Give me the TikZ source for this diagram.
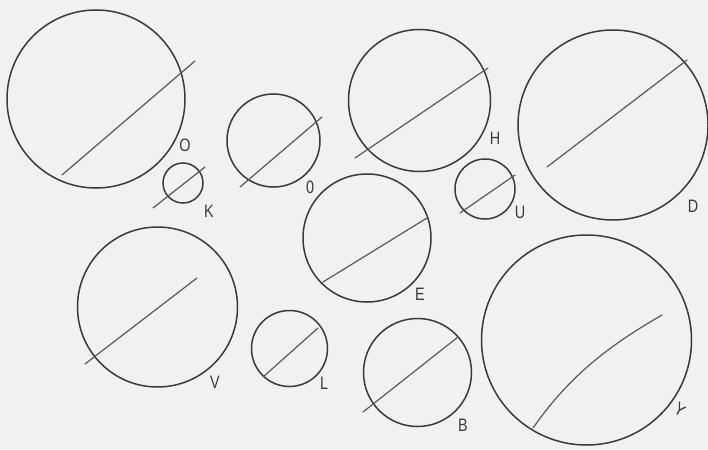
\documentclass[tikz,border=0pt]{standalone}
\usepackage{fontspec}
\setsansfont{Liberation Sans}
\definecolor{paper}{HTML}{F1F1F3}
\definecolor{pencil}{HTML}{3A3A3D}
\begin{document}
\begin{tikzpicture}[x=1pt,y=-1pt,
  disc/.style={circle,draw=pencil,line width=1.5pt,inner sep=0pt,minimum size=#1},
  chord/.style={draw=pencil!85,line width=1.2pt,line cap=round},
  tag/.style={text=pencil,font=\sffamily\fontsize{18}{18}\selectfont,inner sep=0pt,xscale=0.8}]
\fill[paper] (0,0) rectangle (708,449);
\useasboundingbox (0,0) rectangle (708,449);
% circles
\node[disc=178pt] (cO) at (96,99) {};
\node[disc=40pt]  (cK) at (183,183) {};
\node[disc=93pt]  (c0) at (273.5,140.5) {};
\node[disc=142pt] (cH) at (419.5,100.5) {};
\node[disc=60pt]  (cU) at (485,189) {};
\node[disc=190pt] (cD) at (613,125) {};
\node[disc=128pt] (cE) at (367,238) {};
\node[disc=160pt] (cV) at (157.5,307) {};
\node[disc=76pt]  (cL) at (289.5,348.5) {};
\node[disc=108pt] (cB) at (417.5,372.5) {};
\node[disc=210pt] (cY) at (586.5,340) {};
% chords
\draw[chord] (62,175) -- (195,61);
\draw[chord] (153,208) -- (205,167);
\draw[chord] (240,187) -- (322,117);
\draw[chord] (355,158) -- (488,68);
\draw[chord] (460,213) -- (515,175);
\draw[chord] (547,167) -- (687,60);
\draw[chord] (323,282) -- (427,218);
\draw[chord] (85,364) -- (197,278);
\draw[chord] (263,377) -- (318,328);
\draw[chord] (363,412) -- (458,337);
\draw[chord] (533,428) .. controls (570,375) and (610,345) .. (662,315);
% labels
\node[tag] (lO) at (185,145) {O};
\node[tag] (lK) at (209,211) {K};
\node[tag] (l0) at (310,187) {0};
\node[tag] (lH) at (495,138) {H};
\node[tag] (lU) at (520,212) {U};
\node[tag] (lD) at (693,206) {D};
\node[tag] (lE) at (420,294) {E};
\node[tag] (lV) at (215,382) {V};
\node[tag] (lL) at (324,383) {L};
\node[tag] (lB) at (463,425) {B};
\node[tag,rotate=-35] (lY) at (680,410) {Y};
\end{tikzpicture}
\end{document}
